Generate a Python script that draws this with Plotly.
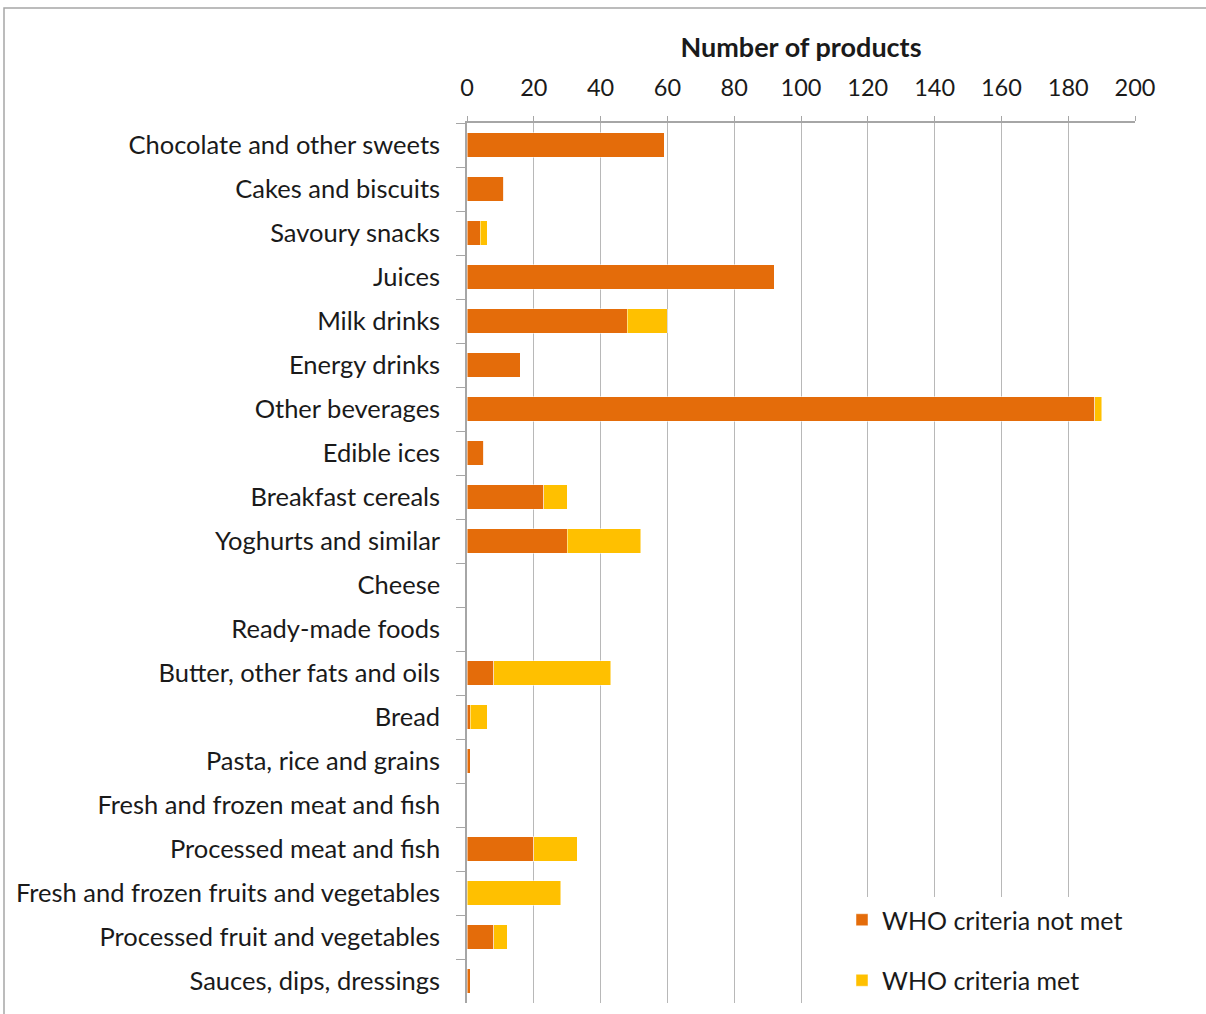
import plotly.graph_objects as go

categories = [
    "Chocolate and other sweets", "Cakes and biscuits", "Savoury snacks", "Juices",
    "Milk drinks", "Energy drinks", "Other beverages", "Edible ices", "Breakfast cereals",
    "Yoghurts and similar", "Cheese", "Ready-made foods", "Butter, other fats and oils",
    "Bread", "Pasta, rice and grains", "Fresh and frozen meat and fish",
    "Processed meat and fish", "Fresh and frozen fruits and vegetables",
    "Processed fruit and vegetables", "Sauces, dips, dressings",
]
not_met = [59, 11, 4, 92, 48, 16, 188, 5, 23, 30, 0, 0, 8, 1, 1, 0, 20, 0, 8, 1]
met = [0, 0, 2, 0, 12, 0, 2, 0, 7, 22, 0, 0, 35, 5, 0, 0, 13, 28, 4, 0]
x_ticks = [0, 20, 40, 60, 80, 100, 120, 140, 160, 180, 200]

FONT = "Lato"
W, H = 1206, 1014
L, R, T, B = 467, 1135, 123, 1003.5

fig = go.Figure()
fig.add_trace(go.Bar(y=categories, x=not_met, orientation="h", name="WHO criteria not met",
                     marker=dict(color="#E46C0A", line=dict(color="rgba(255,255,255,0.6)", width=0.8)),
                     legendgroup="a", width=0.55))
fig.add_trace(go.Bar(y=categories, x=met, orientation="h", name="WHO criteria met",
                     marker=dict(color="#FFC000", line=dict(color="rgba(255,255,255,0.6)", width=0.8)),
                     legendgroup="b", width=0.55))

def px_x(p):
    return (p - L) / (R - L)

def px_y(p):
    return (B - p) / (B - T)

fig.update_layout(
    width=W, height=H,
    barmode="stack",
    plot_bgcolor="white", paper_bgcolor="white",
    margin=dict(l=L, r=W - R, t=T, b=H - B, pad=0),
    font=dict(family=FONT, size=25, color="#1a1a1a"),
    showlegend=True,
    legend=dict(x=px_x(842), y=0, xanchor="left", yanchor="bottom",
                bgcolor="white", traceorder="grouped", tracegroupgap=25,
                font=dict(family=FONT, size=25, color="#1a1a1a"),
                itemwidth=30),
    shapes=[dict(type="rect", xref="paper", yref="paper",
                 x0=px_x(4), x1=px_x(1215), y0=px_y(1025), y1=px_y(8),
                 line=dict(color="#a6a6a6", width=1.5), fillcolor="rgba(0,0,0,0)", layer="below")],
)
fig.update_xaxes(
    side="top", range=[0, 200], tickvals=x_ticks, ticktext=[str(v) for v in x_ticks],
    tickfont=dict(family=FONT, size=23.5),
    showgrid=True, gridcolor="#b8b8b8", gridwidth=1.3,
    showline=True, linecolor="#a6a6a6", linewidth=1.5,
    ticks="outside", ticklen=5, tickcolor="#a6a6a6",
    ticklabelstandoff=11,
    zeroline=False,
    title=dict(text="<b>Number of products</b>", standoff=7, font=dict(family=FONT, size=27)),
)
fig.update_yaxes(
    categoryorder="array", categoryarray=categories, autorange="reversed",
    tickfont=dict(family=FONT, size=25.5),
    showline=True, linecolor="#a6a6a6", linewidth=1.5,
    ticks="outside", ticklen=9, tickcolor="#a6a6a6", tickson="boundaries",
    ticklabelstandoff=20, showgrid=False,
)

fig.write_html("out.html")
